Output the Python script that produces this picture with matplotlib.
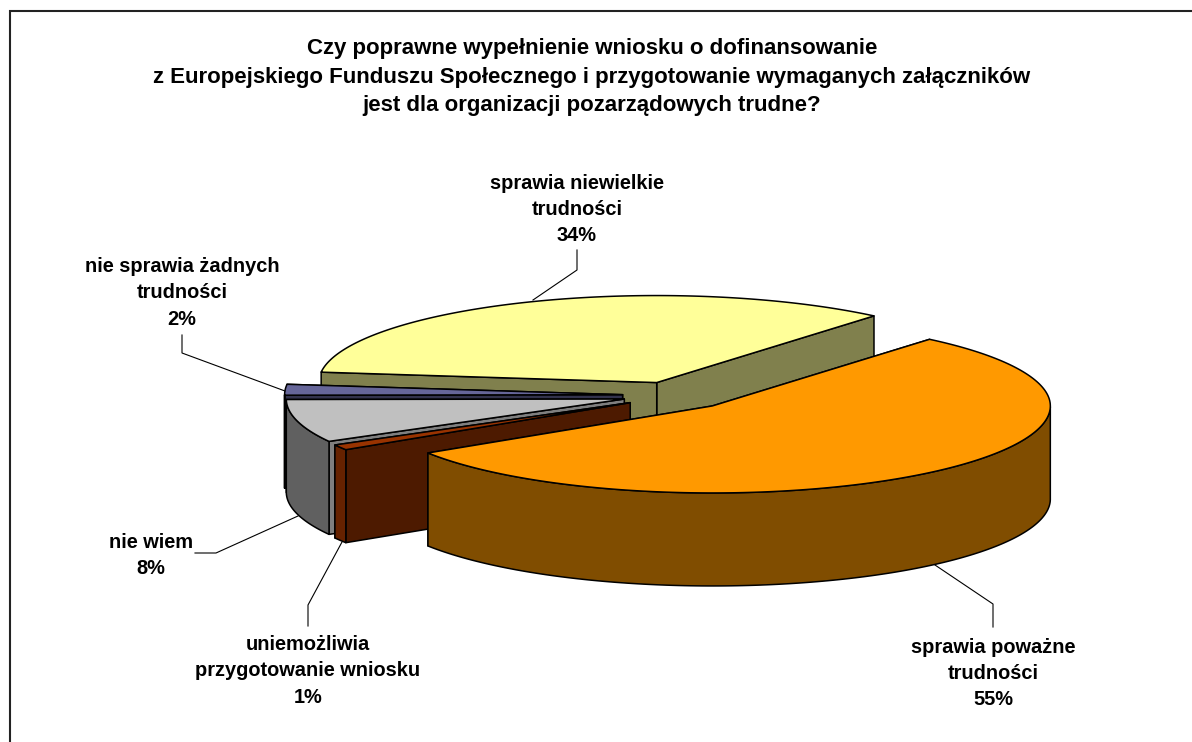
import numpy as np
import matplotlib
matplotlib.use("Agg")
import matplotlib.pyplot as plt
from matplotlib.patches import Polygon

plt.rcParams['font.family'] = ['Liberation Sans', 'DejaVu Sans']

title = ("Czy poprawne wypełnienie wniosku o dofinansowanie\n"
         "z Europejskiego Funduszu Społecznego i przygotowanie wymaganych załączników\n"
         "jest dla organizacji pozarządowych trudne?")

# slices, clockwise from the start angle
labels = ["sprawia poważne\ntrudności", "uniemożliwia\nprzygotowanie wniosku", "nie wiem",
          "nie sprawia żadnych\ntrudności", "sprawia niewielkie\ntrudności"]
values = [54.8, 1.0, 8.0, 2.0, 34.2]
top_colors = ["#FF9900", "#993300", "#C0C0C0", "#666699", "#FFFF99"]
cut_colors = ["#804D00", "#4D1A00", "#7F7F7F", "#33334D", "#80804D"]
wall_colors = ["#804D00", "#662200", "#606060", "#33334D", "#80804D"]

# label centres and leader lines, pixels
label_pos = [(993, 673.5), (308, 671), (151, 555.5), (182, 293), (577, 209.5)]
leaders = [[(935, 565), (993, 604), (993, 627)],
           [(342, 542), (308, 605), (308, 626)],
           [(298, 516), (216, 553), (195, 553)],
           [(285, 391), (182, 353), (182, 335)],
           [(533, 300), (577, 270), (577, 250)]]

# pie geometry in pixels
cx, cy = 676.6, 395.5
rx, ry = 338, 87
depth = 93
explode = 0.16
start = 50


def rim(t, ox, oy):
    t = np.radians(t)
    return ox + rx * np.cos(t), oy - ry * np.sin(t)


fig = plt.figure(figsize=(11.92, 7.42), dpi=100)
ax = fig.add_axes([0, 0, 1, 1])
ax.set_xlim(0, 1192)
ax.set_ylim(742, 0)
ax.axis("off")

# chart frame, open at the bottom and right
ax.plot([9.5, 9.5, 1192], [742, 10.5, 10.5], color="#222222", lw=1.5, solid_joinstyle="miter")

ax.text(592, 77, title, ha="center", va="center", fontsize=16, fontweight="bold", linespacing=1.47)

# slice angles
fracs = np.array(values) / sum(values)
ends = start - 360 * np.concatenate([[0], np.cumsum(fracs)[:-1]])
begins = ends - 360 * fracs

# back to front: yellow, blue, grey, brown, orange
for i in [4, 3, 2, 1, 0]:
    mid = np.radians((begins[i] + ends[i]) / 2)
    ox = cx + explode * rx * np.cos(mid)
    oy = cy - explode * ry * np.sin(mid)
    ts = np.linspace(begins[i], ends[i], 200)
    xs, ys = rim(ts, ox, oy)

    # cut faces
    for t in [begins[i], ends[i]]:
        px, py = rim(t, ox, oy)
        ax.add_patch(Polygon([(ox, oy), (px, py), (px, py + depth), (ox, oy + depth)],
                             fc=cut_colors[i], ec="black", lw=1.1, joinstyle="round"))

    # outer wall, only the front part of the rim
    front = np.sin(np.radians(ts)) <= 0
    if front.any():
        wx, wy = xs[front], ys[front]
        ax.add_patch(Polygon(np.column_stack([np.r_[wx, wx[::-1]], np.r_[wy, wy[::-1] + depth]]),
                             fc=wall_colors[i], ec="black", lw=1.1, joinstyle="round"))

    # top face
    ax.add_patch(Polygon(np.column_stack([np.r_[ox, xs], np.r_[oy, ys]]),
                         fc=top_colors[i], ec="black", lw=1.1, joinstyle="round"))

for name, val, pos, line in zip(labels, values, label_pos, leaders):
    ax.text(pos[0], pos[1], f"{name}\n{val:.0f}%", ha="center", va="center",
            fontsize=14.4, fontweight="bold", linespacing=1.47)
    ax.plot([p[0] for p in line], [p[1] for p in line], color="black", lw=0.8)

fig.savefig("out.png", dpi=100)
